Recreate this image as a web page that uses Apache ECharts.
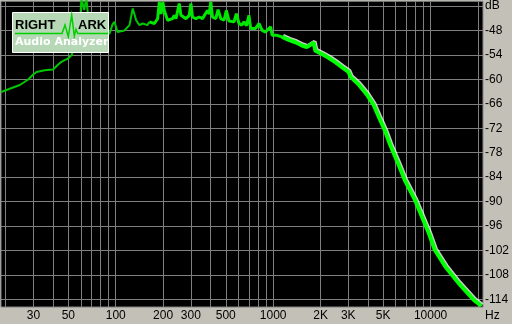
<!DOCTYPE html>
<html><head><meta charset="utf-8">
<script src="https://cdn.jsdelivr.net/npm/echarts@6/dist/echarts.min.js"></script>
<style>html,body{margin:0;padding:0;background:#c3c0b8}#c{width:512px;height:324px}</style>
</head><body><div id="c"></div><script>
// Grid line frequencies (Hz) and labelled frequencies
const gridFreqs = [20,30,40,50,60,70,80,90,100,200,300,400,500,600,700,800,900,1000,2000,3000,4000,5000,6000,7000,8000,9000,10000,20000];
const xLabelFreqs = [30,50,100,200,300,500,1000,2000,3000,5000,10000];
const xLabelTexts = ['30','50','100','200','300','500','1000','2K','3K','5K','10000'];
const yTicks = [-42,-48,-54,-60,-66,-72,-78,-84,-90,-96,-102,-108,-114];
const yLabelTexts = ['dB','-48','-54','-60','-66','-72','-78','-84','-90','-96','-102','-108','-114'];

// Low-frequency part of the spectrum
const lowFreq = [18.7,24.6,27.8,29.8,31.4,35.5,40.0,42.8,45.2,47.4,49.8,52.3,56.3,59.0,60.5,63.0,65.1,67.3,73.4,85.0,91.3,95.4,98.2,102.6,113.7,122.3,128.3,134.8,141.4,148.4,158.9,163.6];
const lowDb   = [-63.1,-61.4,-60.05,-58.9,-58.2,-57.8,-57.6,-56.5,-55.7,-55.3,-54.9,-54.1,-51.2,-48.8,-40.0,-43.0,-40.0,-46.0,-48.0,-48.7,-48.8,-46.5,-45.9,-48.4,-48.0,-46.7,-42.6,-45.5,-46.7,-46.3,-46.7,-45.9];

// Mid part with hum/harmonic peaks
const midFreq = [163.6,176.0,184.6,189.2,194.0,199.1,203.5,213.6,229.7,235.4,241.3,253.2,259.6,279.2,293.0,300.4,307.4,323.0,338.8,355.6,382.4,392.0,401.8,411.2,432.2,446.8,464.8,487.6,504.2,524.4,564.0,583.4,606.8,631.2,652.6,676.8,701.8,719.4,773.8,812,852,895,963,985,1060,1140];
const midDb   = [-45.9,-46.3,-45.1,-41.0,-44.0,-41.0,-43.1,-45.5,-45.1,-44.3,-45.1,-41.4,-44.3,-45.1,-44.3,-41.4,-44.7,-45.1,-44.7,-45.1,-43.1,-44.0,-41.0,-44.7,-45.1,-42.9,-45.1,-45.5,-43.1,-45.7,-45.9,-43.9,-46.3,-46.7,-45.9,-46.8,-44.3,-47.5,-47.5,-46.3,-48.0,-48.4,-47.1,-49.2,-49.2,-49.6];

// High-frequency roll-off
const highFreq = [1140,1257,1386,1526,1634,1809,1854,2041,2250,2480,2732,3012,3100,3484,3932,4336,4662,5140,5528,5944,6238,6908,7956,9752,10644,12426,15100,18870,20986];
const highDb   = [-49.6,-50.3,-50.9,-51.7,-52.1,-51.0,-53.0,-53.8,-54.7,-55.8,-57.0,-58.2,-59.4,-61.2,-63.7,-66.2,-69.0,-72.7,-76.0,-78.9,-80.8,-85.0,-89.6,-97.8,-101.9,-106.0,-110.1,-114.2,-115.6];

const toPts = (fs, ds) => fs.map((f, i) => [Math.log10(f), ds[i]]);
const font = 'Liberation Sans, Arial, sans-serif';

const chart = echarts.init(document.getElementById('c'), null, {renderer: 'canvas'});
chart.setOption({
  animation: false,
  backgroundColor: '#c3c0b8',
  grid: {left: 1, top: 1, right: 27, bottom: 17, show: true, backgroundColor: '#000', borderColor: '#808080', borderWidth: 1},
  xAxis: {
    type: 'value', min: 1.2713, max: 4.3327,
    axisLine: {show: false},
    axisTick: {show: false, customValues: gridFreqs.map(f => Math.log10(f))},
    splitLine: {show: true, lineStyle: {color: '#808080', width: 1}},
    axisLabel: {
      customValues: xLabelFreqs.map(f => Math.log10(f)),
      formatter: v => { const f = Math.round(Math.pow(10, v)); const i = xLabelFreqs.indexOf(f); return i >= 0 ? xLabelTexts[i] : ''; },
      color: '#000', fontSize: 12, fontFamily: font, margin: 3
    }
  },
  yAxis: {
    type: 'value', position: 'right', min: -115.9, max: -40.85,
    axisLine: {show: false},
    axisTick: {show: false, customValues: yTicks},
    splitLine: {show: true, lineStyle: {color: '#808080', width: 1}},
    axisLabel: {
      customValues: yTicks,
      formatter: v => { const i = yTicks.indexOf(Math.round(v)); return i >= 0 ? yLabelTexts[i] : ''; },
      color: '#000', fontSize: 12, fontFamily: font, margin: 2
    }
  },
  series: [
    {type: 'line', data: toPts(lowFreq, lowDb), showSymbol: false, symbol: 'none', lineStyle: {color: '#00c800', width: 2}, emphasis: {disabled: true}, z: 3},
    {type: 'line', data: toPts(midFreq, midDb), showSymbol: false, symbol: 'none', lineStyle: {color: '#00e800', width: 3}, emphasis: {disabled: true}, z: 3},
    {type: 'line', data: toPts(highFreq, highDb), showSymbol: false, symbol: 'none', lineStyle: {color: '#00ff00', width: 4, shadowColor: 'rgba(255,255,255,0.8)', shadowBlur: 0, shadowOffsetX: 1, shadowOffsetY: -1}, emphasis: {disabled: true}, z: 3}
  ],
  graphic: [
    {type: 'rect', z: 100, shape: {x: 12.5, y: 12.5, width: 96, height: 40}, style: {fill: '#b6d8b6', stroke: '#ffffff', lineWidth: 1}},
    {type: 'polyline', z: 101, shape: {points: [[15,33.5],[62,33.5],[65,25],[68.3,36.7],[71.7,15],[74.3,36],[76,29.3],[77.7,33.5],[108,33.5]]}, style: {stroke: '#00d000', lineWidth: 1.5, fill: null}},
    {type: 'text', z: 102, left: 15, top: 19, style: {text: 'RIGHT', fill: '#000', font: 'bold 13px ' + font}},
    {type: 'text', z: 102, left: 78, top: 19, style: {text: 'ARK', fill: '#000', font: 'bold 13px ' + font}},
    {type: 'text', z: 102, left: 15, top: 37, style: {text: 'Audio Analyzer', fill: '#ffffff', font: 'bold 11px DejaVu Sans, sans-serif'}},
    {type: 'text', z: 102, left: 485, top: 310, style: {text: 'Hz', fill: '#000', font: '12px ' + font}}
  ]
});
</script></body></html>
